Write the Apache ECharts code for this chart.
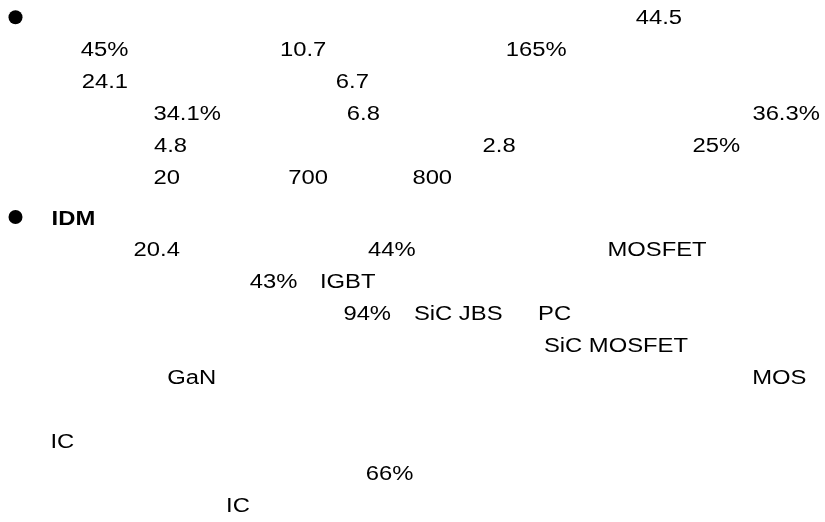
<!DOCTYPE html>
<html>
<head>
<meta charset="utf-8">
<style>
html,body{margin:0;padding:0;background:#fff;}
#chart{width:825px;height:522px;}
</style>
<script src="https://cdn.jsdelivr.net/npm/echarts@6/dist/echarts.min.js"></script>
</head>
<body>
<div id="chart"></div>
<script>
// Text content
const marketFigures = ['44.5','45%','10.7','165%','24.1','6.7','34.1%','6.8','36.3%','4.8','2.8','25%','20','700','800'];
const idmHeading = ['IDM'];
const idmTerms = ['20.4','44%','MOSFET','43%','IGBT','94%','SiC JBS','PC','SiC MOSFET','GaN','MOS','IC','66%','IC'];

// Layout (left x, baseline y)
const figurePos = [[635.7,25],[80.7,57],[280,57],[505.7,57],[81.7,89],[335.8,89],[153.4,121],[346.8,121],[752.4,121],[154,153],[482.6,153],[692.6,153],[153.6,185],[288.2,185],[412.4,185]];
const headingPos = [[51.6,226]];
const termPos = [[133.6,257],[368,257],[607.5,257],[249.7,289],[320,289],[343.4,321],[413.9,321],[538.1,321],[543.9,353],[167.2,385],[752.2,385],[50.5,449],[365.8,481],[226.1,513]];
const bulletPos = [[15.5,17.3],[15.5,217]];

const FONT = 'Liberation Sans, Arial, sans-serif';
const SIZE = 20;
const SX = 1.19;
const MID = 6.9; // baseline to em-middle

function textEl(t, p, bold){
  return {
    type:'text', x:p[0], y:p[1]-MID, scaleX:SX,
    style:{text:t, fill:'#000', fontFamily:FONT, fontSize:SIZE, fontWeight:bold?'bold':'normal',
      align:'left', verticalAlign:'middle'}
  };
}
const elements = [];
bulletPos.forEach(p=>elements.push({type:'circle', shape:{cx:p[0], cy:p[1], r:7}, style:{fill:'#000'}}));
marketFigures.forEach((t,i)=>elements.push(textEl(t, figurePos[i], false)));
idmHeading.forEach((t,i)=>elements.push(textEl(t, headingPos[i], true)));
idmTerms.forEach((t,i)=>elements.push(textEl(t, termPos[i], false)));

const chart = echarts.init(document.getElementById('chart'), null, {renderer:'canvas'});
chart.setOption({backgroundColor:'#fff', animation:false, graphic:{elements}});
</script>
</body>
</html>
